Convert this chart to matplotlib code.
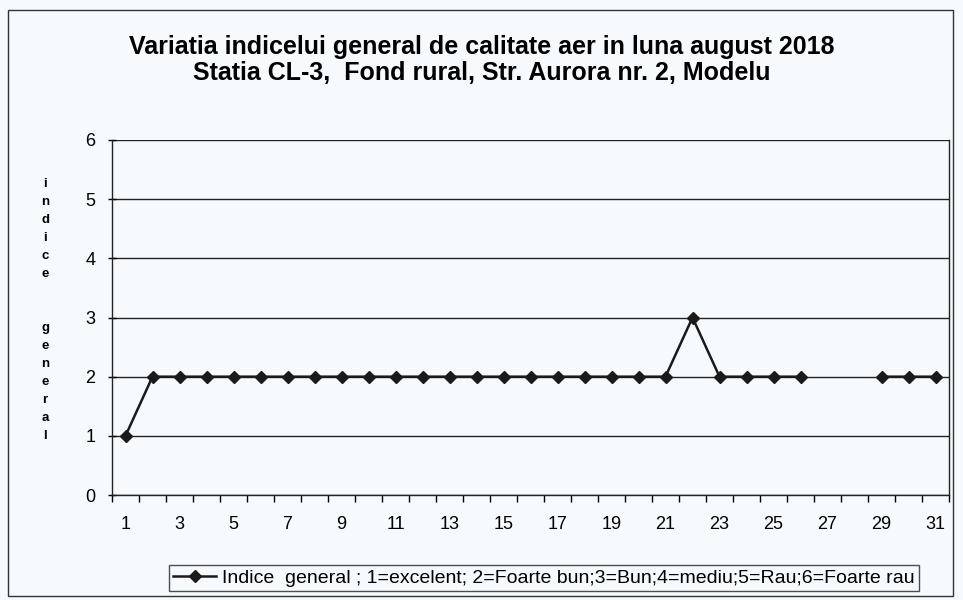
import numpy as np
import matplotlib.pyplot as plt
from matplotlib.patches import Rectangle

plt.rcParams['font.family'] = ['Liberation Sans', 'DejaVu Sans']

# daily values, august 2018 (27 and 28 missing)
days = np.arange(1, 32)
indice = [1, 2, 2, 2, 2, 2, 2, 2, 2, 2,
          2, 2, 2, 2, 2, 2, 2, 2, 2, 2,
          2, 3, 2, 2, 2, 2, np.nan, np.nan, 2, 2,
          2]
xticks = list(range(1, 32, 2))
yticks = [0, 1, 2, 3, 4, 5, 6]

title = ('Variatia indicelui general de calitate aer in luna august 2018\n'
         'Statia CL-3,  Fond rural, Str. Aurora nr. 2, Modelu')
legend_label = ('Indice  general ; 1=excelent; 2=Foarte bun;3=Bun;'
                '4=mediu;5=Rau;6=Foarte rau')

fig = plt.figure(figsize=(9.63, 6.0), dpi=100)
fig.patch.set_facecolor('#f7fafc')
ax = fig.add_axes([112 / 963, 1 - 495 / 600, (949 - 112) / 963, (495 - 140) / 600])
ax.set_facecolor('#f7fafc')

ax.plot(days, indice, color='#1a1a1a', lw=1.8, marker='D', ms=6.5,
        label=legend_label)

ax.set_xlim(0.5, 31.5)
ax.set_ylim(0, 6)
ax.set_yticks(yticks)
ax.set_xticks(xticks)
ax.set_xticks(np.arange(0.5, 32, 1), minor=True)
ax.tick_params(axis='x', which='major', length=0, pad=15, labelsize=13)
ax.tick_params(axis='x', which='minor', length=5, direction='out', width=1)
ax.tick_params(axis='y', length=6, direction='inout', width=1, labelsize=13, pad=9)
ax.grid(axis='y', color='#222222', lw=1)
for s in ax.spines.values():
    s.set_color('#222222')
    s.set_linewidth(1)
ax.spines['top'].set_visible(False)

fig.text(0.5, 1 - 60 / 600, title, ha='center', va='center', fontsize=18,
         fontweight='bold', linespacing=1.12)

fig.text(45 / 963, 1 - 310 / 600, '\n'.join('indice  general'), ha='center',
         va='center', fontsize=9.5, fontweight='bold', linespacing=1.67)

leg = fig.legend(loc='center', bbox_to_anchor=(544 / 963, 1 - 578 / 600),
                 frameon=True, fancybox=False, fontsize=14, handlelength=2.2,
                 borderpad=0.2, handletextpad=0.3)
leg.get_frame().set_edgecolor('#222222')
leg.get_frame().set_linewidth(1)
leg.get_frame().set_facecolor('none')

fig.patches.append(Rectangle((8 / 963, 4 / 600), 945 / 963, 586 / 600,
                             transform=fig.transFigure, fill=False,
                             edgecolor='#333333', lw=1))

fig.savefig('out.png', dpi=100)
